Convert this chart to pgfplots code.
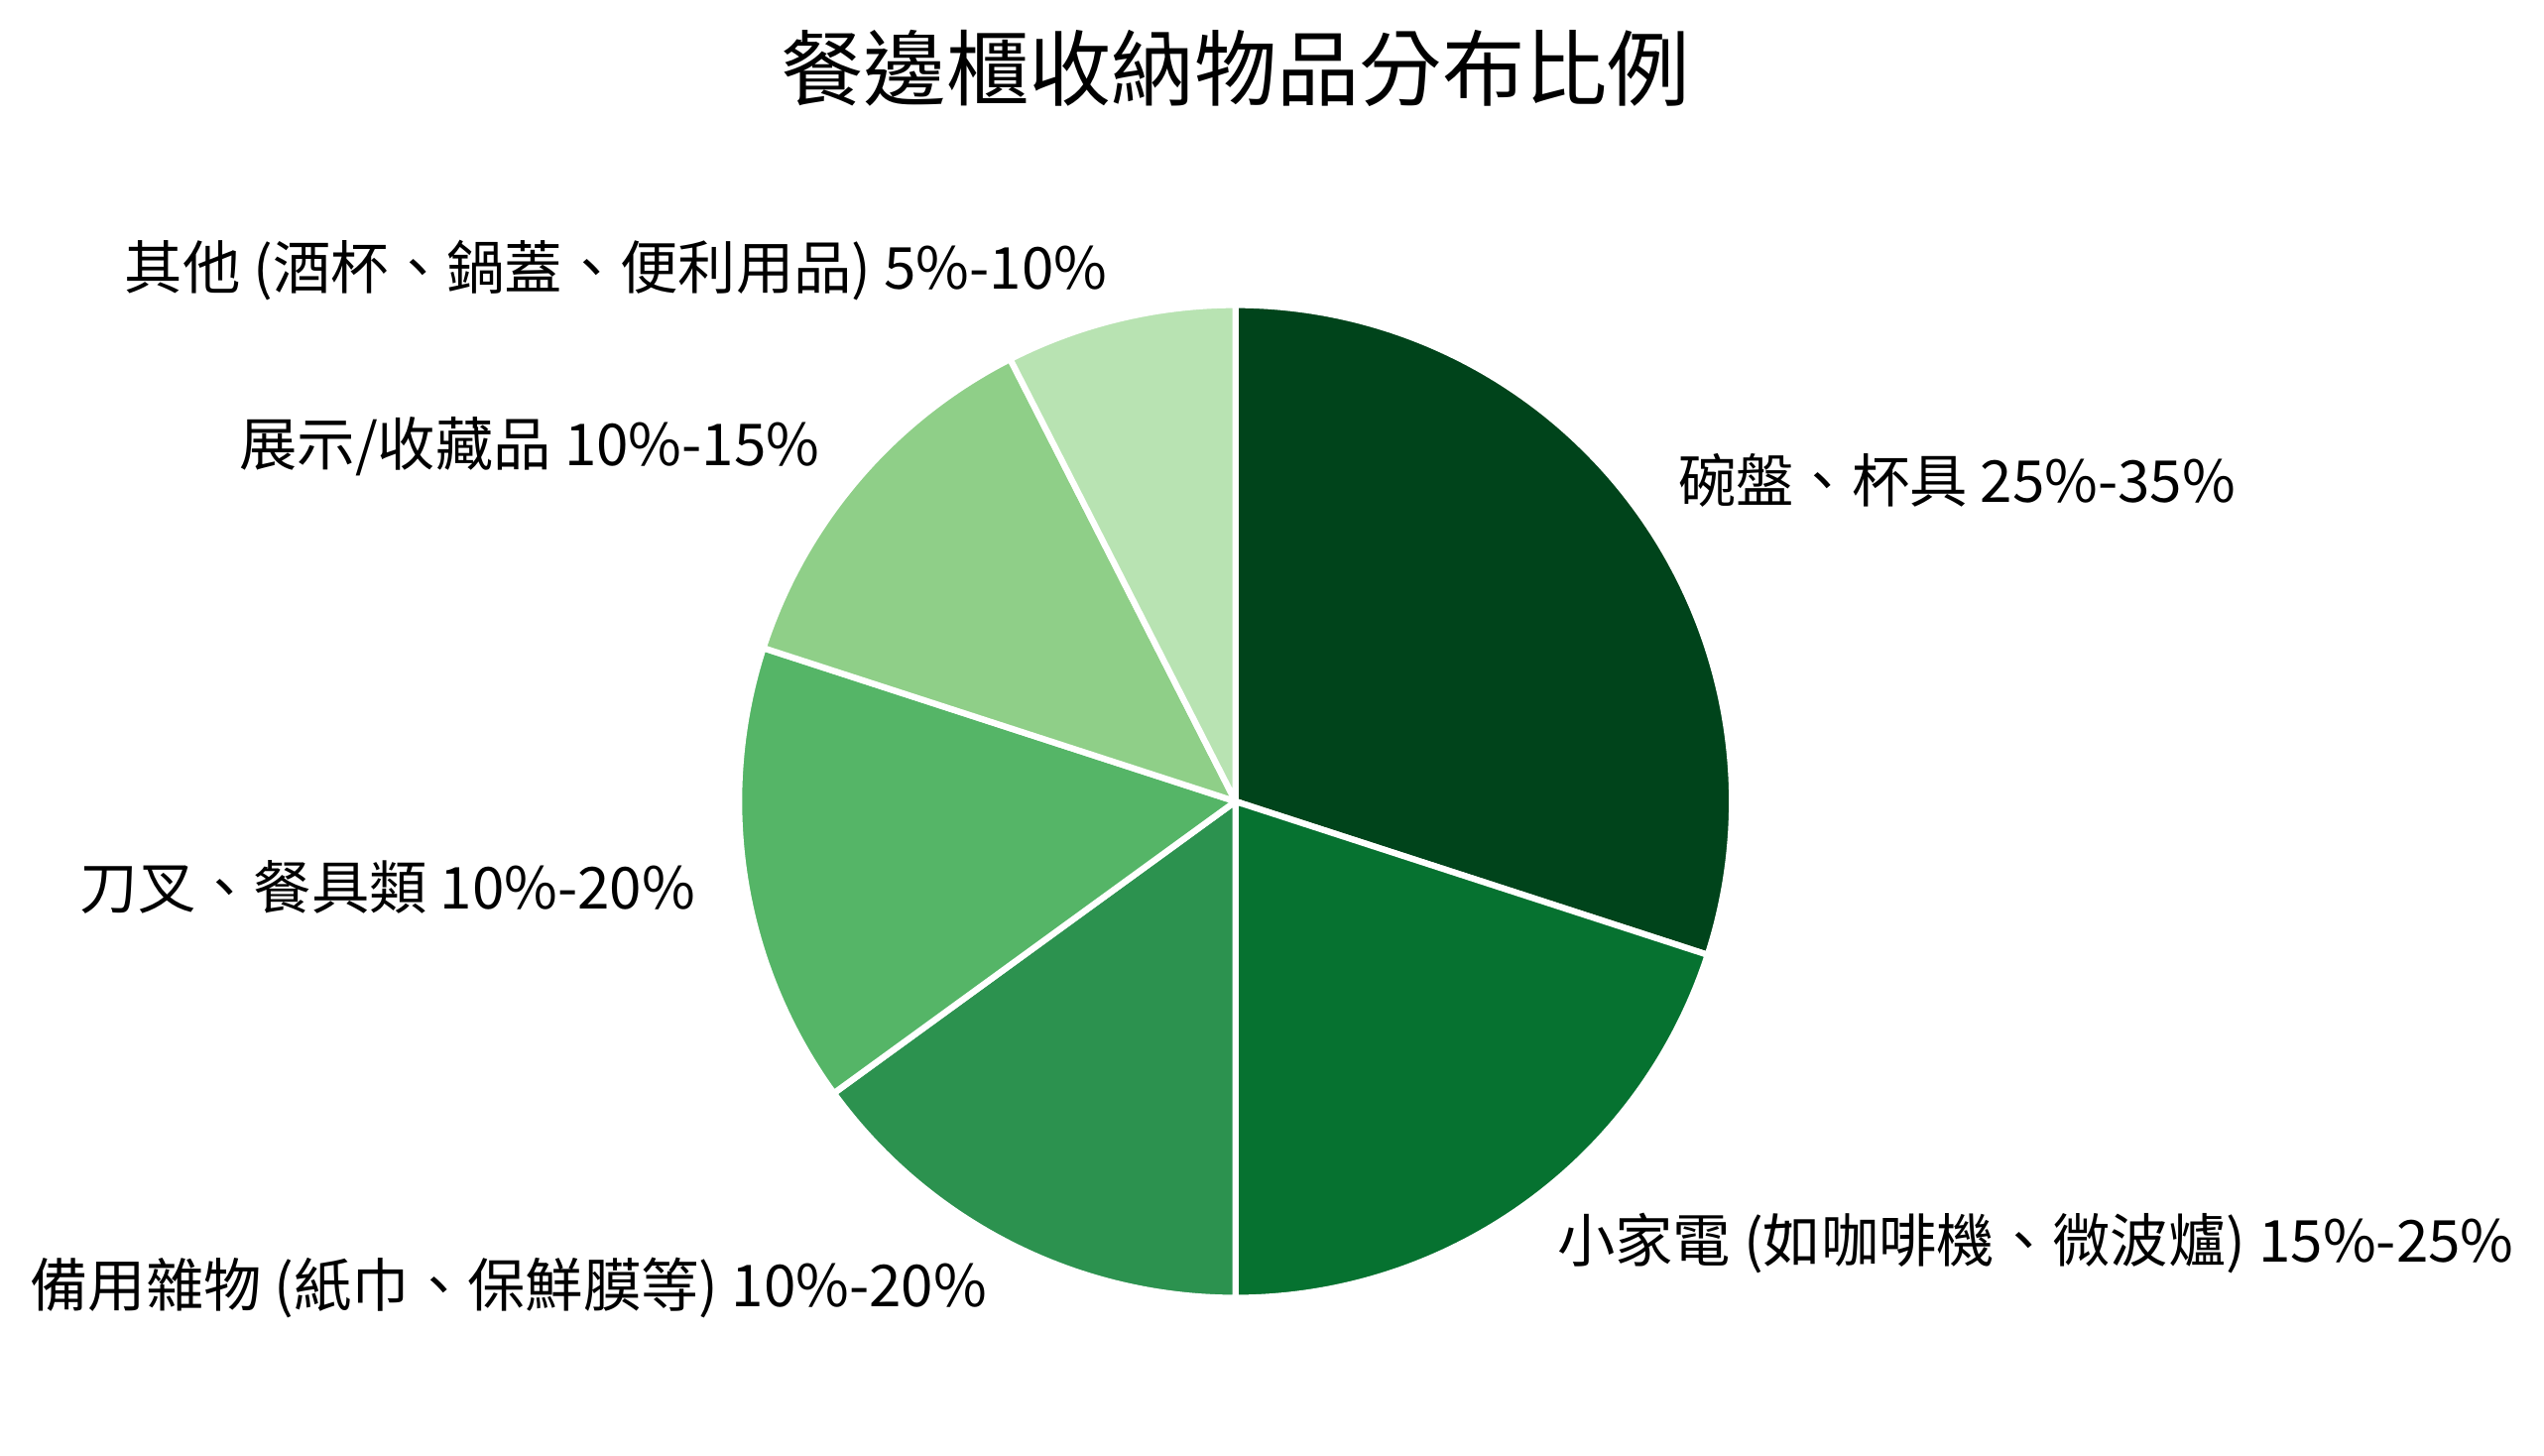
\documentclass[border=0pt]{standalone}
\usepackage{pgfplots}
\usepackage{pgfplotstable}
\pgfplotsset{compat=1.18}
\usepackage{fontspec}
\setmainfont{Noto Sans CJK TC}

\definecolor{g1}{HTML}{00441B}
\definecolor{g2}{HTML}{067230}
\definecolor{g3}{HTML}{2C924F}
\definecolor{g4}{HTML}{55B567}
\definecolor{g5}{HTML}{8FCF88}
\definecolor{g6}{HTML}{B8E3B2}

% share of each group (midpoint of the stated range), clockwise from the top
\pgfplotstableread[col sep=comma]{
pct,label
30,碗盤、杯具 25\%-35\%
20,小家電 (如咖啡機、微波爐) 15\%-25\%
15,備用雜物 (紙巾、保鮮膜等) 10\%-20\%
15,刀叉、餐具類 10\%-20\%
12.5,展示/收藏品 10\%-15\%
7.5,其他 (酒杯、鍋蓋、便利用品) 5\%-10\%
}\piedata
\pgfplotstablecreatecol[create col/expr accum={\pgfmathaccuma + \thisrow{pct}}{0}]{cum}\piedata

\begin{document}
\begin{tikzpicture}
\begin{axis}[
    scale only axis,
    width=615.6pt, height=352.3pt,
    xmin=-2.4886, xmax=2.6356,
    ymin=-1.3183, ymax=1.6144,
    hide axis, clip=false,
]
\path (rel axis cs:0,0) rectangle (rel axis cs:1,1);
\pgfplotsinvokeforeach{0,...,5}{
    \pgfplotstablegetelem{#1}{pct}\of\piedata \let\p\pgfplotsretval
    \pgfplotstablegetelem{#1}{cum}\of\piedata \let\c\pgfplotsretval
    \pgfplotstablegetelem{#1}{label}\of\piedata \let\lab\pgfplotsretval
    \pgfmathsetmacro\a{90-3.6*(\c-\p)}
    \pgfmathsetmacro\b{90-3.6*\c}
    \pgfmathsetmacro\m{(\a+\b)/2}
    \pgfmathsetmacro\lx{1.1*cos(\m)}
    \pgfmathsetmacro\ly{1.1*sin(\m)}
    \pgfmathparse{cos(\m)<0 ? "east" : "west"}\let\anc\pgfmathresult
    \pgfmathtruncatemacro\k{#1+1}
    \edef\cmd{%
      \noexpand\filldraw[fill=g\k, draw=white, line width=1.5pt, line join=miter]
        (axis cs:0,0) -- plot[domain=\a:\b, samples=120, variable=\noexpand\t]
        (axis cs:{cos(\noexpand\t)},{sin(\noexpand\t)}) -- cycle;
      \noexpand\node[anchor=\anc, inner sep=0pt, font=\noexpand\fontsize{14pt}{16pt}\noexpand\selectfont]
        at (axis cs:\lx,\ly) {\expandafter\unexpanded\expandafter{\lab}};
    }\cmd
}
\node[font=\fontsize{20pt}{24pt}\selectfont, inner sep=0pt] at (axis cs:0,1.477) {餐邊櫃收納物品分布比例};
\end{axis}
\end{tikzpicture}
\end{document}
